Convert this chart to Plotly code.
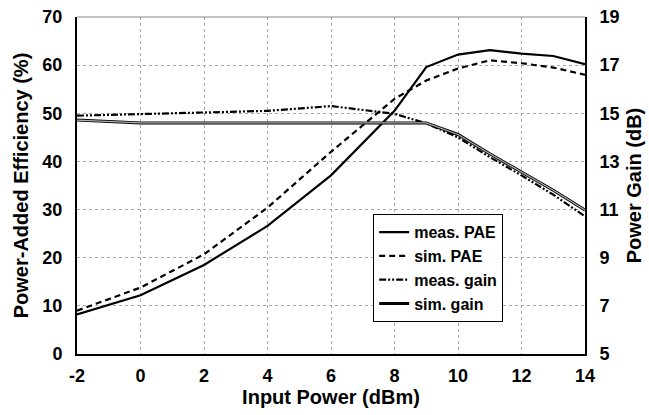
import plotly.graph_objects as go

x_pwr = [-2, 0, 2, 4, 6, 8, 9, 10, 11, 12, 13, 14]
meas_pae = [8.2, 12.2, 18.5, 26.6, 37.1, 50.5, 59.6, 62.2, 63.1, 62.4, 61.9, 60.2]
sim_pae = [9.0, 13.8, 20.7, 30.4, 42.0, 53.0, 56.8, 59.3, 61.0, 60.4, 59.5, 58.0]
meas_gain = [14.9, 14.96, 15.02, 15.1, 15.3, 14.98, 14.58, 14.0, 13.18, 12.42, 11.62, 10.72]
sim_gain = [14.72, 14.6, 14.6, 14.6, 14.6, 14.6, 14.6, 14.12, 13.32, 12.56, 11.8, 10.98]

x_ticks = [-2, 0, 2, 4, 6, 8, 10, 12, 14]
pae_ticks = [0, 10, 20, 30, 40, 50, 60, 70]
gain_ticks = [5, 7, 9, 11, 13, 15, 17, 19]

FONT = "Liberation Sans, Arial, sans-serif"

fig = go.Figure()
fig.add_trace(go.Scatter(x=x_pwr, y=meas_pae, mode="lines", name="meas. PAE",
                         line=dict(color="black", width=2.2)))
fig.add_trace(go.Scatter(x=x_pwr, y=sim_pae, mode="lines", name="sim. PAE",
                         line=dict(color="black", width=2.2, dash="6px,4px")))
fig.add_trace(go.Scatter(x=x_pwr, y=meas_gain, mode="lines", name="meas. gain", yaxis="y2",
                         line=dict(color="black", width=2.2, dash="7px,2px,2px,2px,2px,2px")))
fig.add_trace(go.Scatter(x=x_pwr, y=sim_gain, mode="lines", name="sim. gain", yaxis="y2",
                         line=dict(color="black", width=3)))
fig.add_trace(go.Scatter(x=x_pwr, y=sim_gain, mode="lines", showlegend=False, yaxis="y2",
                         hoverinfo="skip", line=dict(color="#b0b0b0", width=1.2)))

tickfont = dict(family=FONT, size=18, color="black", weight="bold")
titlefont = dict(family=FONT, size=20, color="black", weight="bold")

fig.update_layout(
    width=649, height=415,
    margin=dict(l=77, r=64, t=17, b=61),
    paper_bgcolor="white", plot_bgcolor="white",
    showlegend=True,
    legend=dict(x=0.583, y=0.415, xanchor="left", yanchor="top",
                bordercolor="black", borderwidth=1, bgcolor="white",
                font=dict(family=FONT, size=16, color="black", weight="bold"),
                tracegroupgap=0, itemwidth=30),
    xaxis=dict(range=[-2, 14], tickvals=x_ticks, ticktext=[str(v) for v in x_ticks],
               showline=True, linecolor="black", linewidth=2, mirror=False,
               showgrid=True, gridcolor="#aaaaaa", griddash="dot", gridwidth=1,
               zeroline=False, ticks="", tickfont=tickfont, ticklabelstandoff=4,
               automargin=False,
               title=dict(text="Input Power (dBm)", font=titlefont, standoff=4)),
    yaxis=dict(range=[0, 70], tickvals=pae_ticks,
               showline=True, linecolor="black", linewidth=2,
               showgrid=True, gridcolor="#aaaaaa", griddash="dot", gridwidth=1,
               zeroline=False, ticks="", tickfont=tickfont, ticklabelstandoff=9,
               automargin=False,
               title=dict(text="Power-Added Efficiency (%)", font=titlefont, standoff=8)),
    yaxis2=dict(range=[5, 19], tickvals=gain_ticks, overlaying="y", side="right",
                showline=True, linecolor="black", linewidth=2,
                showgrid=False, zeroline=False, ticks="", tickfont=tickfont,
                ticklabelstandoff=9, automargin=False,
                title=dict(text="Power Gain (dB)", font=titlefont, standoff=8)),
)
fig.add_shape(type="line", xref="paper", yref="paper", x0=0, x1=1, y0=1, y1=1,
              line=dict(color="#888888", width=1))

fig.write_html("out.html")
